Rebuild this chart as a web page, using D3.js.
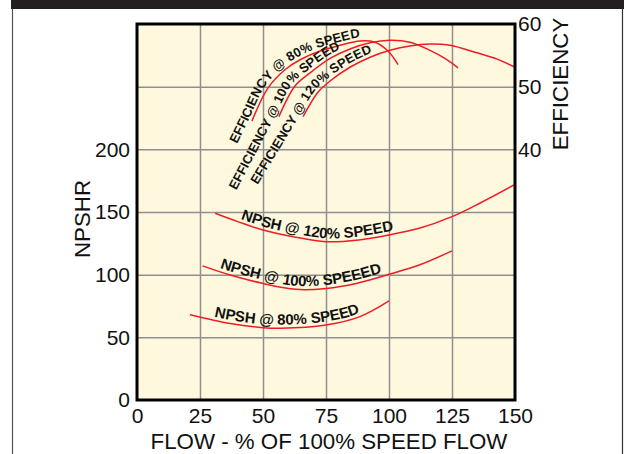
<!DOCTYPE html>
<html>
<head>
<meta charset="utf-8">
<script src="https://cdn.jsdelivr.net/npm/d3@7"></script>
<style>
  body { margin: 0; background: #fff; }
  svg { display: block; font-family: "Liberation Sans", Arial, sans-serif; }
  .grid line { stroke: #8f8f8f; stroke-width: 1.5; }
  .grid .domain { display: none; }
  .axis text { font-size: 21px; fill: #111; }
  .axis .domain, .axis line { display: none; }
  .curve { fill: none; stroke: #ee1c25; stroke-width: 1.5; }
  .guide { fill: none; stroke: none; }
  .curve-label { font-weight: bold; fill: #111; }
  .axes-labels { font-size: 22.3px; fill: #111; }
</style>
</head>
<body>
<svg id="chart" width="624" height="454"></svg>
<script>
// tick values
const flowTicks = [0, 25, 50, 75, 100, 125, 150];
const npshTicks = [0, 50, 100, 150, 200];
const npshGrid = [50, 100, 150, 200, 250];
const effTicks = [40, 50, 60];

// NPSH curves, [flow %, NPSHR]
const npsh80 = [[21, 68], [37, 61], [50, 57.7], [57, 57.2], [75, 59.8], [88.5, 66.5], [100, 79]];
const npsh100 = [[26, 107], [37, 99.7], [50, 93], [63, 88.3], [75, 89], [87, 93], [100, 100.3], [112, 107.7], [125, 119]];
const npsh120 = [[31, 149], [40, 142.3], [50, 135.6], [62, 130.3], [75, 126.3], [88, 127.7], [100, 131.7], [112, 137], [125, 146.3], [136, 157], [150, 172]];

// efficiency curves, [flow %, efficiency]
const eff80 = [[45.6, 44.5], [52, 49.8], [58.7, 52.7], [64.7, 54.3], [72.6, 55.7], [80.6, 56.6], [88.5, 57.3], [94.4, 57.1], [99.6, 55.7], [103.6, 53.5]];
const eff100 = [[56.3, 45.2], [62.7, 50.1], [68.7, 52.2], [76.6, 54.5], [84.5, 56], [92.5, 57], [100.4, 57.4], [108.3, 57.1], [116.3, 55.8], [122.2, 54.5], [127.4, 53]];
const eff120 = [[65.9, 45.2], [71.8, 49.1], [76.6, 50.9], [84.5, 53.1], [92.5, 54.7], [100.4, 55.8], [108.3, 56.5], [116.3, 56.8], [124.2, 56.6], [134.9, 55.4], [142.9, 54.4], [150, 53.1]];

const npshLabels = ["NPSH @ 80% SPEED", "NPSH @ 100% SPEEED", "NPSH @ 120% SPEED"];
const effLabels = ["EFFICIENCY @ 80% SPEED", "EFFICIENCY @ 100% SPEED", "EFFICIENCY @ 120% SPEED"];

const W = 624, H = 454;
const plot = { left: 137, top: 24, right: 515, bottom: 400 };

const svg = d3.select("#chart");

const x = d3.scaleLinear().domain([0, 150]).range([plot.left, plot.right]);
const yNpsh = d3.scaleLinear().domain([0, 300]).range([plot.bottom, plot.top]);
const yEff = d3.scaleLinear().domain([0, 60]).range([plot.bottom, plot.top]);

/**
 * Outer frame: dark band on top, thin box sides
 */
function drawFrame() {
  svg.append("rect").attr("x", 11).attr("y", 0).attr("width", W - 11).attr("height", 9).attr("fill", "#231f20");
  svg.append("line").attr("x1", 12.5).attr("x2", 12.5).attr("y1", 9).attr("y2", H)
    .attr("stroke", "#555").attr("stroke-width", 1.2);
  svg.append("line").attr("x1", 622.5).attr("x2", 622.5).attr("y1", 9).attr("y2", H)
    .attr("stroke", "#333").attr("stroke-width", 1.2);
}

/**
 * Cream plot area with the grey grid
 */
function drawGrid() {
  svg.append("rect")
    .attr("x", plot.left).attr("y", plot.top)
    .attr("width", plot.right - plot.left).attr("height", plot.bottom - plot.top)
    .attr("fill", "#fef9de");

  svg.append("g")
    .attr("class", "grid")
    .attr("transform", "translate(0," + plot.bottom + ")")
    .call(d3.axisBottom(x).tickValues(flowTicks.slice(1, -1)).tickSize(-(plot.bottom - plot.top)).tickFormat(""));

  svg.append("g")
    .attr("class", "grid")
    .attr("transform", "translate(" + plot.left + ",0)")
    .call(d3.axisLeft(yNpsh).tickValues(npshGrid).tickSize(-(plot.right - plot.left)).tickFormat(""));
}

function drawAxes() {
  svg.append("g")
    .attr("class", "axis")
    .attr("transform", "translate(0," + plot.bottom + ")")
    .call(d3.axisBottom(x).tickValues(flowTicks).tickSize(0).tickPadding(8));

  svg.append("g")
    .attr("class", "axis")
    .attr("transform", "translate(" + plot.left + ",0)")
    .call(d3.axisLeft(yNpsh).tickValues(npshTicks).tickSize(0).tickPadding(7));

  svg.append("g")
    .attr("class", "axis")
    .attr("transform", "translate(" + plot.right + ",0)")
    .call(d3.axisRight(yEff).tickValues(effTicks).tickSize(0).tickPadding(3));

  // titles
  svg.append("text")
    .attr("transform", "translate(329,449)")
    .style("text-anchor", "middle")
    .text("FLOW - % OF 100% SPEED FLOW")
    .classed("axes-labels", true);

  svg.append("text")
    .attr("transform", "translate(90,219) rotate(-90)")
    .style("text-anchor", "middle")
    .text("NPSHR")
    .classed("axes-labels", true);

  svg.append("text")
    .attr("transform", "translate(568,84) rotate(-90)")
    .style("text-anchor", "middle")
    .text("EFFICIENCY")
    .classed("axes-labels", true);
}

/**
 * Draws one red curve and writes its label along it.
 * extend - stretch the label path back before the first point (px)
 * offset - where the label starts on that path (px)
 */
function drawCurve(data, yScale, id, label, fontSize, extend, offset) {
  const line = d3.line()
    .x(d => x(d[0]))
    .y(d => yScale(d[1]))
    .curve(d3.curveCatmullRom.alpha(0.5));

  svg.append("path")
    .attr("class", "curve")
    .attr("d", line(data));

  var pts = data.map(d => [x(d[0]), yScale(d[1])]);
  if (extend > 0) {
    var dx = pts[1][0] - pts[0][0], dy = pts[1][1] - pts[0][1];
    var len = Math.hypot(dx, dy);
    pts.unshift([pts[0][0] - dx / len * extend, pts[0][1] - dy / len * extend]);
  }
  svg.append("path")
    .attr("id", id)
    .attr("class", "guide")
    .attr("d", d3.line().curve(d3.curveCatmullRom.alpha(0.5))(pts));

  svg.append("text")
    .attr("class", "curve-label")
    .style("font-size", fontSize + "px")
    .attr("dy", -3.5)
    .append("textPath")
    .attr("href", "#" + id)
    .attr("startOffset", offset)
    .text(label);
}

function drawBorder() {
  svg.append("rect")
    .attr("x", plot.left).attr("y", plot.top)
    .attr("width", plot.right - plot.left).attr("height", plot.bottom - plot.top)
    .attr("fill", "none")
    .attr("stroke", "#000")
    .attr("stroke-width", 3);
}

drawFrame();
drawGrid();
drawCurve(npsh80, yNpsh, "npsh80", npshLabels[0], 15, 0, 24);
drawCurve(npsh100, yNpsh, "npsh100", npshLabels[1], 15, 0, 17);
drawCurve(npsh120, yNpsh, "npsh120", npshLabels[2], 15, 0, 26);
drawCurve(eff80, yEff, "eff80", effLabels[0], 13, 27, 0);
drawCurve(eff100, yEff, "eff100", effLabels[1], 13, 85, 0);
drawCurve(eff120, yEff, "eff120", effLabels[2], 13, 82, 0);
drawBorder();
drawAxes();
</script>
</body>
</html>
